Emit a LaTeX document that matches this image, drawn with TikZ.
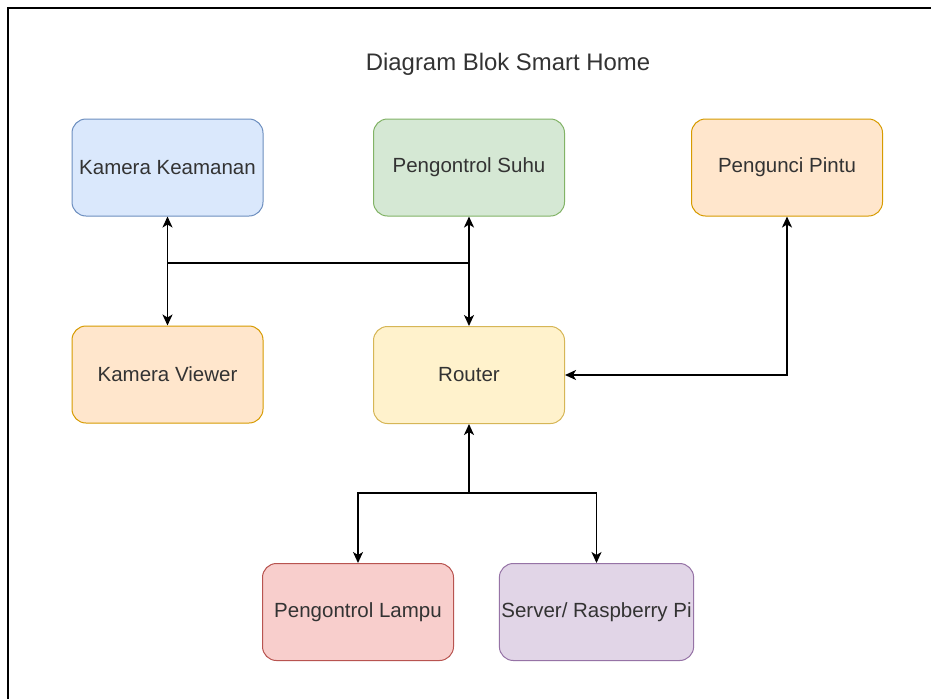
\documentclass[tikz,border=0pt]{standalone}
\usepackage{fontspec}
\setmainfont{Liberation Sans}
\usetikzlibrary{arrows.meta}
\definecolor{bluefill}{HTML}{DAE8FC}\definecolor{bluedraw}{HTML}{6C8EBF}
\definecolor{greenfill}{HTML}{D5E8D4}\definecolor{greendraw}{HTML}{82B366}
\definecolor{orangefill}{HTML}{FFE6CC}\definecolor{orangedraw}{HTML}{D79B00}
\definecolor{yellowfill}{HTML}{FFF2CC}\definecolor{yellowdraw}{HTML}{D6B656}
\definecolor{redfill}{HTML}{F8CECC}\definecolor{reddraw}{HTML}{B85450}
\definecolor{purplefill}{HTML}{E1D5E7}\definecolor{purpledraw}{HTML}{9673A6}
\definecolor{txt}{HTML}{333333}
\tikzset{
  blockbox/.style={rectangle, rounded corners=14pt, line width=1pt,
    minimum width=191pt, minimum height=97pt, inner sep=2pt,
    font=\fontsize{20.5pt}{24pt}\selectfont, text=txt},
  conn/.style={line width=1.6pt, black},
  tip/.style={-{Stealth[length=11pt,width=10pt,inset=3pt]}},
  biarrow/.style={{Stealth[length=11pt,width=10pt,inset=3pt]}-{Stealth[length=11pt,width=10pt,inset=3pt]}}
}
\begin{document}
\begin{tikzpicture}[x=1pt,y=-1pt]
\useasboundingbox (0,0) rectangle (931,699);
\fill[white] (0,0) rectangle (931,699);
\draw[line width=2pt, black] (8,699) -- (8,8) -- (931,8);
\node[font=\fontsize{23.9pt}{28pt}\selectfont, text=txt] (title) at (508,64) {Diagram Blok Smart Home};
\node[blockbox, fill=bluefill, draw=bluedraw] (kk) at (167.5,167.5) {Kamera Keamanan};
\node[blockbox, fill=greenfill, draw=greendraw] (ps) at (469,167.5) {Pengontrol Suhu};
\node[blockbox, fill=orangefill, draw=orangedraw] (pp) at (787,167.5) {Pengunci Pintu};
\node[blockbox, fill=orangefill, draw=orangedraw] (kv) at (167.5,374.5) {Kamera Viewer};
\node[blockbox, fill=yellowfill, draw=yellowdraw] (rt) at (469,375) {Router};
\node[blockbox, fill=redfill, draw=reddraw] (pl) at (358,612) {Pengontrol Lampu};
\node[blockbox, fill=purplefill, draw=purpledraw] (sv) at (596.5,612) {Server/ Raspberry Pi};
\coordinate (j1) at (167.5,263);
\coordinate (j2) at (469,263);
\coordinate (j3) at (469,493);
\draw[conn, biarrow] (kk.south) -- (kv.north);
\draw[conn, biarrow] (ps.south) -- (rt.north);
\draw[conn] (j1) -- (j2);
\draw[conn, biarrow] (pp.south) |- (rt.east);
\draw[conn, tip] (j3) -- (rt.south);
\draw[conn, tip] (j3) -| (pl.north);
\draw[conn, tip] (j3) -| (sv.north);
\end{tikzpicture}
\end{document}
